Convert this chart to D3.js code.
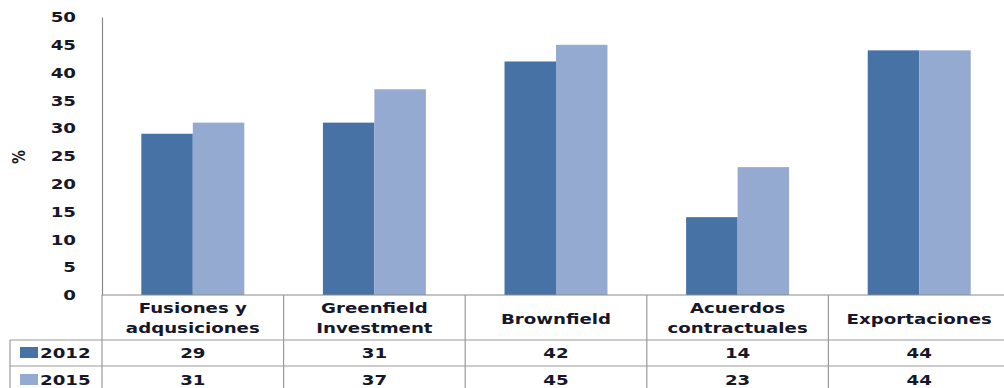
<!DOCTYPE html>
<html><head><meta charset="utf-8">
<script src="https://cdn.jsdelivr.net/npm/d3@7"></script>
<style>
html,body{margin:0;padding:0;background:#fff;overflow:hidden}
text{font-family:"DejaVu Sans",Verdana,sans-serif;font-weight:bold;fill:#17172a}
</style></head>
<body><svg id="c" width="1004" height="388"></svg>
<script>
const categories = ["Fusiones y adqusiciones","Greenfield Investment","Brownfield","Acuerdos contractuales","Exportaciones"];
const categoryLines = [["Fusiones y","adqusiciones"],["Greenfield","Investment"],["Brownfield"],["Acuerdos","contractuales"],["Exportaciones"]];
const seriesNames = ["2012","2015"];
const values2012 = [29,31,42,14,44];
const values2015 = [31,37,45,23,44];
const yTicks = [0,5,10,15,20,25,30,35,40,45,50];
const colors = {"2012":"#4672A6","2015":"#94AAD0"};

(function(){
const SX = 1.3, FS = 14;
const svg = d3.select("#c");
const pLeft = 102, pRight = 1010, pTop = 17, pBottom = 295;
const y = d3.scaleLinear().domain([0,50]).range([pBottom, pTop]);
const x0 = d3.scaleBand().domain(categories).range([pLeft,pRight]).paddingInner(0.433).paddingOuter(0.2165);
const x1 = d3.scaleBand().domain(seriesNames).range([0,x0.bandwidth()]);
const step = x0.step();
const catStart = c => pLeft + categories.indexOf(c)*step;
const catCenter = c => catStart(c) + step/2;

function stext(g, x, yy, str, anchor){
  g.append("text").attr("transform",`translate(${x},${yy}) scale(${SX},1)`)
   .attr("text-anchor",anchor||"middle").attr("dominant-baseline","central")
   .style("font-size",FS+"px").text(str);
}

// bars
const data = categories.map((c,i)=>({cat:c, vals:[{s:"2012",v:values2012[i]},{s:"2015",v:values2015[i]}]}));
const groups = svg.append("g").selectAll("g").data(data).join("g")
  .attr("transform", d=>`translate(${x0(d.cat)},0)`);
groups.selectAll("rect").data(d=>d.vals).join("rect")
  .attr("x", d=>x1(d.s)).attr("width", x1.bandwidth())
  .attr("y", d=>y(d.v)).attr("height", d=>y(0)-y(d.v))
  .attr("fill", d=>colors[d.s]);

// y axis
const ax = svg.append("g").attr("transform",`translate(${pLeft},0)`)
  .call(d3.axisLeft(y).tickValues(yTicks).tickSize(0).tickPadding(0));
ax.select(".domain").attr("stroke","#8a8a8a").attr("stroke-width",1.2);
ax.selectAll(".tick text").attr("x",null).attr("dy",null)
  .attr("dominant-baseline","central")
  .attr("transform",`translate(-26,0) scale(${SX},1)`)
  .style("font-size",FS+"px").style("font-family",'"DejaVu Sans",Verdana,sans-serif').style("font-weight","bold").attr("fill","#17172a");

// % label
svg.append("text").attr("transform",`translate(19,157) scale(${SX},1) rotate(-90)`)
  .attr("text-anchor","middle").attr("dominant-baseline","central")
  .style("font-size","14px").text("%");

// table
const rowTop = 295, row1 = 340, row2 = 366, rowEnd = 395;
const lineC = "#9a9a9a";
const tg = svg.append("g");
tg.append("line").attr("x1",pLeft).attr("x2",1004).attr("y1",rowTop).attr("y2",rowTop).attr("stroke","#8a8a8a").attr("stroke-width",1.2);
[row1,row2].forEach(r=>tg.append("line").attr("x1",10).attr("x2",1004).attr("y1",r).attr("y2",r).attr("stroke",lineC).attr("stroke-width",1.2));
tg.append("line").attr("x1",10).attr("x2",10).attr("y1",row1).attr("y2",rowEnd).attr("stroke",lineC).attr("stroke-width",1.2);
tg.append("line").attr("x1",pLeft).attr("x2",pLeft).attr("y1",rowTop).attr("y2",rowEnd).attr("stroke",lineC).attr("stroke-width",1.2);
categories.forEach(c=>{
  const xe = catStart(c)+step;
  tg.append("line").attr("x1",xe).attr("x2",xe).attr("y1",rowTop).attr("y2",rowEnd).attr("stroke",lineC).attr("stroke-width",1.2);
});
categories.forEach((c,i)=>{
  const lines = categoryLines[i];
  if(lines.length===1) stext(tg, catCenter(c), 319, lines[0]);
  else { stext(tg, catCenter(c), 308, lines[0]); stext(tg, catCenter(c), 328, lines[1]); }
});
const rows = [{s:"2012", vals:values2012, yc:353},{s:"2015", vals:values2015, yc:380}];
rows.forEach(r=>{
  tg.append("rect").attr("x",20).attr("y",r.yc-6).attr("width",18).attr("height",11).attr("fill",colors[r.s]);
  stext(tg, 40, r.yc, r.s, "start");
  categories.forEach((c,i)=> stext(tg, catCenter(c), r.yc, String(r.vals[i])));
});
})();
</script></body></html>
